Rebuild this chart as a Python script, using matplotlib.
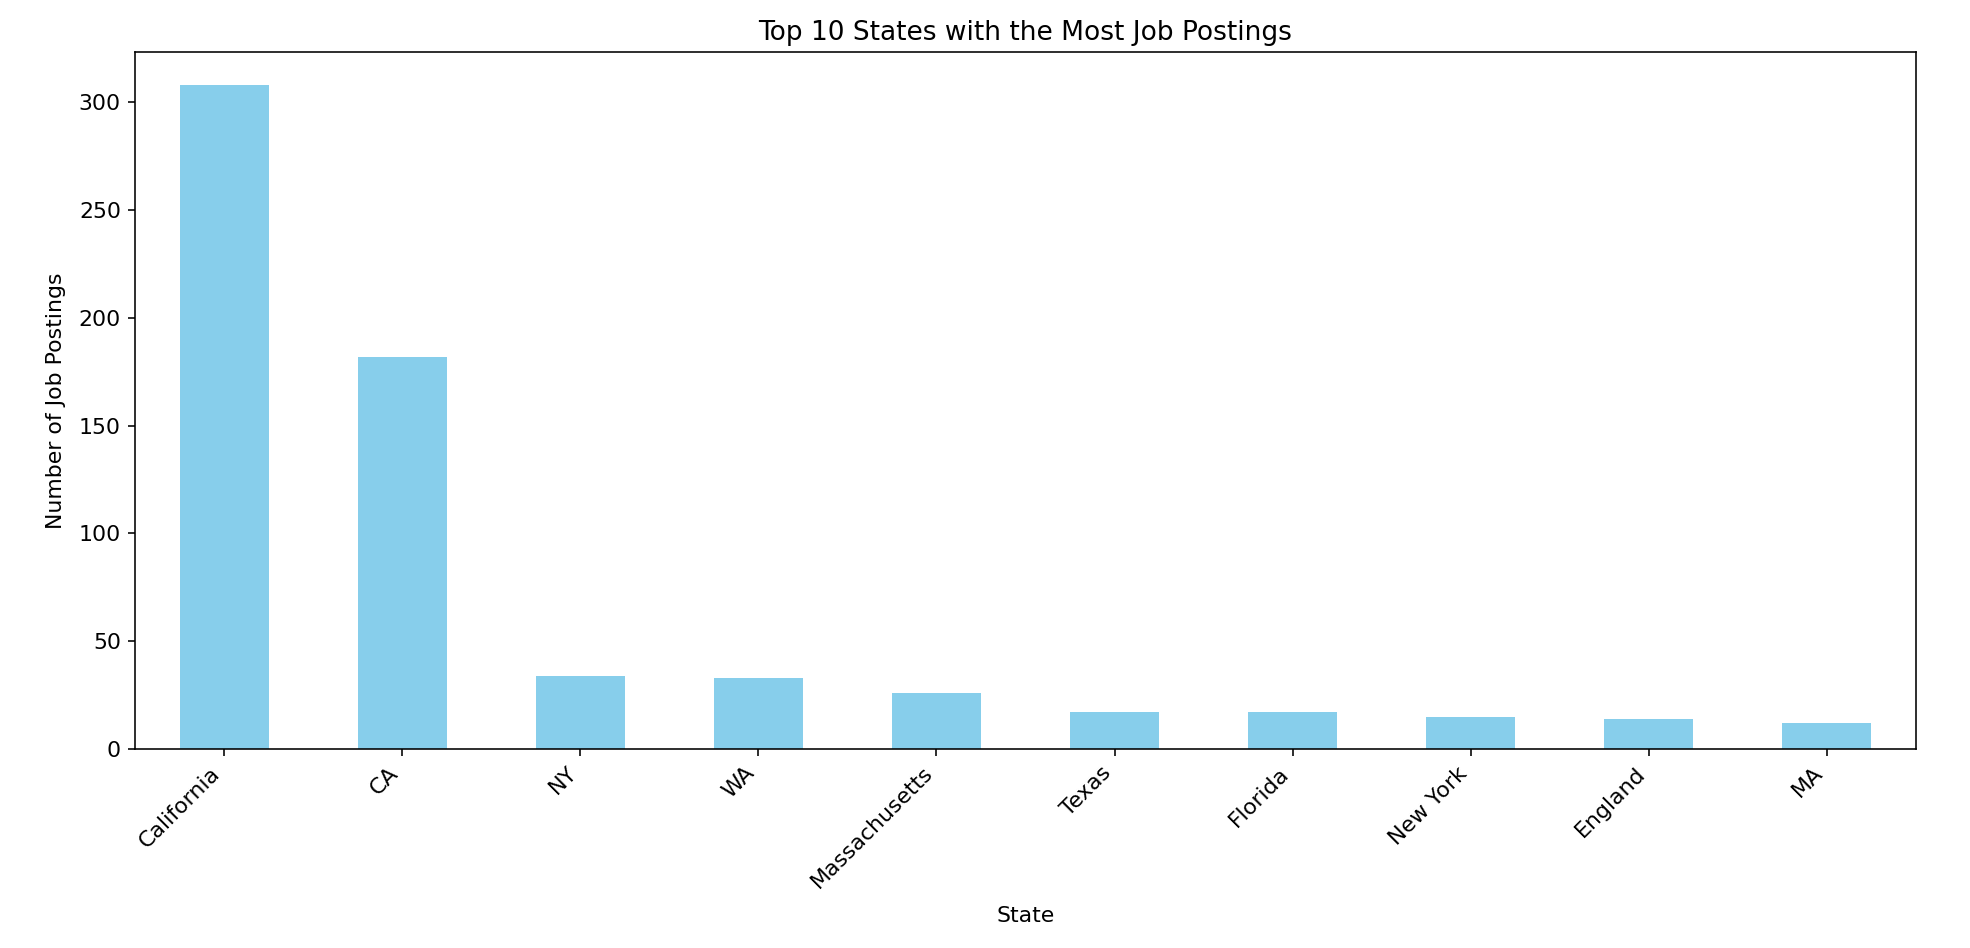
import matplotlib
matplotlib.use("Agg")
import matplotlib.pyplot as plt

states = ["California", "CA", "NY", "WA", "Massachusetts", "Texas", "Florida",
          "New York", "England", "MA"]
postings = [308, 182, 34, 33, 26, 17, 17, 15, 14, 12]

W, H, DPI = 1970, 948, 144
fig = plt.figure(figsize=(W / DPI, H / DPI), dpi=DPI)
ax = fig.add_axes([135 / W, 1 - 749 / H, (1916 - 135) / W, (749 - 52) / H])

x = list(range(len(states)))
ax.bar(x, postings, width=0.5, color="skyblue")
ax.set_xlim(-0.5, len(states) - 0.5)
ax.set_xticks(x)
ax.set_xticklabels(states, rotation=45, ha="right", fontsize=11)
ax.tick_params(axis="y", labelsize=11)
ax.set_title("Top 10 States with the Most Job Postings", fontsize=13.2)
ax.set_xlabel("State", fontsize=11, labelpad=7)
ax.set_ylabel("Number of Job Postings", fontsize=11, labelpad=6.5)

fig.savefig("out.png", dpi=DPI)
